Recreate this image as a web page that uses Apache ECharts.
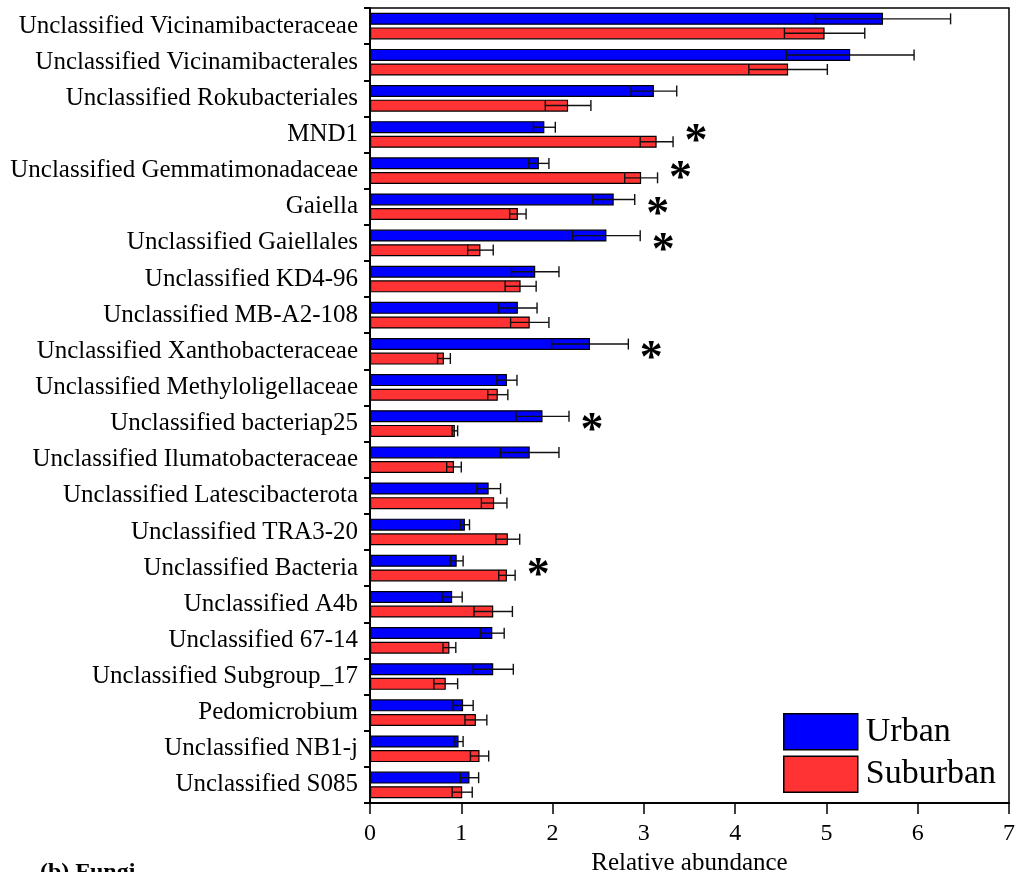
<!DOCTYPE html>
<html>
<head>
<meta charset="utf-8">
<script src="https://cdn.jsdelivr.net/npm/echarts@6/dist/echarts.min.js"></script>
<style>
html,body{margin:0;padding:0;background:#fff;}
#chart{width:1016px;height:872px;}
</style>
</head>
<body>
<div id="chart"></div>
<script>
const categories = [
  'Unclassified Vicinamibacteraceae',
  'Unclassified Vicinamibacterales',
  'Unclassified Rokubacteriales',
  'MND1',
  'Unclassified Gemmatimonadaceae',
  'Gaiella',
  'Unclassified Gaiellales',
  'Unclassified KD4-96',
  'Unclassified MB-A2-108',
  'Unclassified Xanthobacteraceae',
  'Unclassified Methyloligellaceae',
  'Unclassified bacteriap25',
  'Unclassified Ilumatobacteraceae',
  'Unclassified Latescibacterota',
  'Unclassified TRA3-20',
  'Unclassified Bacteria',
  'Unclassified A4b',
  'Unclassified 67-14',
  'Unclassified Subgroup_17',
  'Pedomicrobium',
  'Unclassified NB1-j',
  'Unclassified S085'
];
const urban =       [5.62,5.26,3.11,1.91,1.85,2.67,2.59,1.81,1.62,2.41,1.50,1.89,1.75,1.30,1.04,0.95,0.90,1.34,1.35,1.02,0.97,1.09];
const urbanErr =    [0.74,0.70,0.25,0.12,0.11,0.23,0.37,0.26,0.21,0.42,0.11,0.29,0.32,0.13,0.05,0.07,0.11,0.13,0.22,0.11,0.05,0.10];
const suburban =    [4.98,4.58,2.17,3.14,2.97,1.62,1.21,1.65,1.75,0.81,1.40,0.93,0.92,1.36,1.51,1.50,1.35,0.87,0.83,1.16,1.20,1.01];
const suburbanErr = [0.44,0.43,0.25,0.18,0.18,0.09,0.14,0.17,0.21,0.07,0.11,0.03,0.08,0.14,0.13,0.09,0.21,0.07,0.13,0.12,0.10,0.11];
const significant = ['MND1','Unclassified Gemmatimonadaceae','Gaiella','Unclassified Gaiellales',
  'Unclassified Xanthobacteraceae','Unclassified bacteriap25','Unclassified Bacteria'];
const xTicks = [0,1,2,3,4,5,6,7];

const FONT = '"Liberation Serif", "Times New Roman", serif';

function errData(vals, errs){
  return vals.map((v,i)=>[v, errs[i], i]);
}
function errRender(sign){
  return function(params, api){
    const v = api.value(0), e = api.value(1), idx = api.value(2);
    const band = api.size([0,1])[1];
    const off = sign * band * 0.2;
    const pL = api.coord([v - e, idx]);
    const pR = api.coord([v + e, idx]);
    const y = pL[1] + off;
    const h = 5.5;
    const st = {stroke:'#111', lineWidth:1.4};
    return {type:'group', children:[
      {type:'line', shape:{x1:pL[0], y1:y, x2:pR[0], y2:y}, style:st},
      {type:'line', shape:{x1:pL[0], y1:y-h, x2:pL[0], y2:y+h}, style:st},
      {type:'line', shape:{x1:pR[0], y1:y-h, x2:pR[0], y2:y+h}, style:st}
    ]};
  };
}
const sigData = categories.map((c,i)=> significant.indexOf(c) >= 0 ?
  [Math.max(urban[i]+urbanErr[i], suburban[i]+suburbanErr[i]), i] : null).filter(d=>d);

const chart = echarts.init(document.getElementById('chart'), null, {renderer:'canvas'});
chart.setOption({
  animation:false,
  backgroundColor:'#fff',
  textStyle:{fontFamily:FONT, color:'#000'},
  grid:{left:370, right:7, top:8, bottom:69, show:true, borderColor:'#000', borderWidth:1.5,
    backgroundColor:'transparent', containLabel:false, outerBoundsMode:'none'},
  legend:{
    data:['Urban','Suburban'], orient:'vertical', left:783, top:713, padding:0,
    itemWidth:74, itemHeight:36, itemGap:5, icon:'rect',
    textStyle:{fontFamily:FONT, fontSize:34, color:'#000', padding:[0,0,0,3]},
    itemStyle:{borderColor:'#000', borderWidth:1.5}
  },
  xAxis:{
    type:'value', min:xTicks[0], max:xTicks[xTicks.length-1], interval:1,
    name:'Relative abundance', nameLocation:'middle', nameGap:39,
    nameTextStyle:{fontFamily:FONT, fontSize:25, color:'#000'},
    axisLine:{show:true, lineStyle:{color:'#000', width:2}},
    axisTick:{show:true, length:11, lineStyle:{color:'#000', width:1.5}},
    axisLabel:{fontFamily:FONT, fontSize:24, color:'#000', margin:19},
    splitLine:{show:false}
  },
  yAxis:{
    type:'category', data:categories, inverse:true,
    axisLine:{show:true, lineStyle:{color:'#000', width:2}},
    axisTick:{show:true, length:6, lineStyle:{color:'#000', width:2}},
    axisLabel:{fontFamily:FONT, fontSize:25, color:'#000', margin:12},
    splitLine:{show:false}
  },
  series:[
    {name:'Urban', type:'bar', data:urban, barWidth:12, barGap:'22%',
      itemStyle:{color:'#0000FF', borderColor:'#000', borderWidth:1.2}, z:2},
    {name:'Suburban', type:'bar', data:suburban, barWidth:12, barGap:'22%',
      itemStyle:{color:'#FF3333', borderColor:'#000', borderWidth:1.2}, z:2},
    {name:'UrbanErr', type:'custom', data:errData(urban, urbanErr), renderItem:errRender(-1),
      encode:{x:0, y:2}, z:5, silent:true},
    {name:'SuburbanErr', type:'custom', data:errData(suburban, suburbanErr), renderItem:errRender(1),
      encode:{x:0, y:2}, z:5, silent:true},
    {name:'Sig', type:'custom', data:sigData, encode:{x:0, y:1}, z:6, silent:true,
      renderItem:function(params, api){
        const p = api.coord([api.value(0), api.value(1)]);
        return {type:'text', x:p[0]+23, y:p[1]+9,
          style:{text:'*', fontFamily:FONT, fontSize:46, fontWeight:'bold', fill:'#000', align:'center', verticalAlign:'middle'}};
      }}
  ],
  graphic:[
    {type:'text', left:40, top:861, style:{text:'(b) Fungi', fontFamily:FONT, fontSize:24, fontWeight:'bold', fill:'#000'}}
  ]
});
</script>
</body>
</html>
